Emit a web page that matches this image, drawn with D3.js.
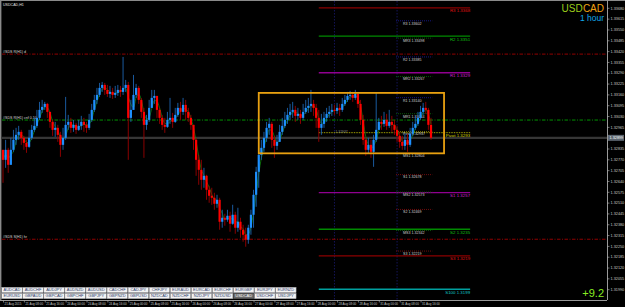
<!DOCTYPE html>
<html>
<head>
<meta charset="utf-8">
<script src="https://cdn.jsdelivr.net/npm/d3@7"></script>
<style>
  body { margin: 0; background: #000; overflow: hidden; }
  svg { display: block; }
</style>
</head>
<body>
<div id="chart"></div>
<script>
// USDCAD H1 bars, oldest first (open = previous close)
const firstOpen = 1.32827;
const closes = [
  1.32767, 1.32827, 1.32737, 1.32827, 1.32887, 1.32917, 1.32935, 1.32899, 1.32869, 1.32845,
  1.32899, 1.32947, 1.32971, 1.33019, 1.33067, 1.33085, 1.33103, 1.33055, 1.32995, 1.32947,
  1.32959, 1.32917, 1.32857, 1.32899, 1.32977, 1.32995, 1.32959, 1.32977, 1.32947, 1.32971,
  1.32995, 1.32977, 1.32959, 1.33007, 1.33067, 1.33127, 1.33157, 1.33199, 1.33217, 1.33187,
  1.33163, 1.33175, 1.33157, 1.33169, 1.33187, 1.33175, 1.33199, 1.33217, 1.33019, 1.33067,
  1.33157, 1.33199, 1.33127, 1.33055, 1.32977, 1.33007, 1.33079, 1.33139, 1.33151, 1.33067,
  1.33019, 1.32977, 1.32965, 1.33007, 1.33019, 1.32995, 1.33037, 1.33079, 1.33055, 1.33097,
  1.33055, 1.33019, 1.32977, 1.32887, 1.32767, 1.32707, 1.32647, 1.32671, 1.32587, 1.32551,
  1.32539, 1.32503, 1.32527, 1.32395, 1.32419, 1.32407, 1.32431, 1.32383, 1.32437, 1.32359,
  1.32395, 1.32347, 1.32317, 1.32287, 1.32359, 1.32437, 1.32557, 1.32695, 1.32797, 1.32839,
  1.32899, 1.32959, 1.32983, 1.32887, 1.32851, 1.32875, 1.32935, 1.32971, 1.33007, 1.33037,
  1.33055, 1.33067, 1.33031, 1.33043, 1.33019, 1.33055, 1.33079, 1.33091, 1.33103, 1.33079,
  1.33019, 1.32959, 1.32983, 1.33019, 1.33043, 1.33055, 1.33067, 1.33061, 1.33079, 1.33067,
  1.33103, 1.33127, 1.33151, 1.33157, 1.33139, 1.33163, 1.33103, 1.33007, 1.32887, 1.32827,
  1.32857, 1.32815, 1.32887, 1.32947, 1.32995, 1.32983, 1.33007, 1.32971, 1.32995, 1.32977,
  1.32947, 1.32911, 1.32875, 1.32851, 1.32887, 1.32857, 1.32923, 1.32959, 1.32983, 1.33019,
  1.33055, 1.33079, 1.33067, 1.32977, 1.32899
];
const highs = [
  1.32827, 1.32887, 1.32839, 1.32899, 1.32947, 1.32959, 1.32971, 1.32947, 1.32911, 1.32887,
  1.32947, 1.32977, 1.33019, 1.33067, 1.33115, 1.33127, 1.33115, 1.33109, 1.33055, 1.33007,
  1.32995, 1.32977, 1.32935, 1.32959, 1.33145, 1.33037, 1.33019, 1.33007, 1.32989, 1.33007,
  1.33031, 1.33019, 1.32995, 1.33043, 1.33103, 1.33157, 1.33199, 1.33229, 1.33235, 1.33229,
  1.33217, 1.33211, 1.33199, 1.33211, 1.33217, 1.33211, 1.33385, 1.33247, 1.33235, 1.33127,
  1.33277, 1.33223, 1.33211, 1.33139, 1.33079, 1.33037, 1.33127, 1.33187, 1.33187, 1.33151,
  1.33079, 1.33037, 1.33019, 1.33055, 1.33139, 1.33049, 1.33079, 1.33109, 1.33115, 1.33139,
  1.33127, 1.33079, 1.33037, 1.32977, 1.32899, 1.32797, 1.32767, 1.32719, 1.32677, 1.32611,
  1.32599, 1.32569, 1.32557, 1.32539, 1.32467, 1.32443, 1.32467, 1.32455, 1.32497, 1.32455,
  1.32479, 1.32419, 1.32377, 1.32359, 1.32377, 1.32467, 1.32587, 1.32725, 1.32839, 1.32887,
  1.32935, 1.32995, 1.33019, 1.32995, 1.32911, 1.32917, 1.32977, 1.33019, 1.33055, 1.33079,
  1.33103, 1.33115, 1.33091, 1.33079, 1.33067, 1.33103, 1.33127, 1.33139, 1.33187, 1.33127,
  1.33103, 1.33067, 1.33043, 1.33055, 1.33079, 1.33091, 1.33103, 1.33097, 1.33109, 1.33103,
  1.33139, 1.33157, 1.33175, 1.33181, 1.33175, 1.33187, 1.33163, 1.33127, 1.33037, 1.32899,
  1.32899, 1.32887, 1.32917, 1.33169, 1.33019, 1.33031, 1.33055, 1.33043, 1.33067, 1.33031,
  1.33007, 1.32971, 1.32935, 1.32911, 1.32923, 1.32923, 1.32959, 1.32995, 1.33031, 1.33055,
  1.33091, 1.33109, 1.33115, 1.33079, 1.33019
];
const lows = [
  1.32629, 1.32719, 1.32689, 1.32737, 1.32815, 1.32857, 1.32887, 1.32857, 1.32827, 1.32809,
  1.32839, 1.32887, 1.32935, 1.32959, 1.33007, 1.33049, 1.33067, 1.33019, 1.32959, 1.32911,
  1.32905, 1.32875, 1.32785, 1.32827, 1.32887, 1.32947, 1.32929, 1.32935, 1.32923, 1.32941,
  1.32947, 1.32935, 1.32929, 1.32947, 1.32995, 1.33055, 1.33103, 1.33145, 1.33175, 1.33157,
  1.33145, 1.33139, 1.33133, 1.33139, 1.33151, 1.33145, 1.33157, 1.33175, 1.32767, 1.32995,
  1.33067, 1.33139, 1.33103, 1.33019, 1.32779, 1.32947, 1.32995, 1.33079, 1.33103, 1.33019,
  1.32983, 1.32947, 1.32929, 1.32959, 1.32983, 1.32959, 1.32989, 1.33025, 1.33007, 1.33037,
  1.33007, 1.32995, 1.32947, 1.32827, 1.32671, 1.32617, 1.32587, 1.32599, 1.32527, 1.32509,
  1.32497, 1.32467, 1.32479, 1.32347, 1.32359, 1.32371, 1.32395, 1.32335, 1.32377, 1.32323,
  1.32335, 1.32299, 1.32275, 1.32245, 1.32263, 1.32317, 1.32359, 1.32485, 1.32599, 1.32767,
  1.32815, 1.32875, 1.32917, 1.32839, 1.32779, 1.32827, 1.32875, 1.32917, 1.32959, 1.32983,
  1.33007, 1.33019, 1.32995, 1.33007, 1.32983, 1.33007, 1.33043, 1.33049, 1.33055, 1.33031,
  1.32959, 1.32875, 1.32917, 1.32959, 1.32995, 1.33019, 1.33031, 1.33037, 1.33043, 1.33031,
  1.33055, 1.33091, 1.33115, 1.33127, 1.33115, 1.33127, 1.33079, 1.32977, 1.32857, 1.32791,
  1.32803, 1.32779, 1.32725, 1.32875, 1.32947, 1.32947, 1.32965, 1.32947, 1.32959, 1.32935,
  1.32917, 1.32875, 1.32839, 1.32827, 1.32827, 1.32815, 1.32845, 1.32911, 1.32947, 1.32971,
  1.33007, 1.33037, 1.33043, 1.32947, 1.32887
];

const priceTicks = [
  1.33680, 1.33615, 1.33550, 1.33485, 1.33420, 1.33355, 1.33290, 1.33225, 1.33160,
  1.33095, 1.33030, 1.32965, 1.32900, 1.32835, 1.32770, 1.32705, 1.32640, 1.32575,
  1.32510, 1.32445, 1.32380, 1.32315, 1.32250, 1.32185, 1.32120, 1.32055, 1.31990
];
const timeLabels = [
  "21 Aug 2015", "21 Aug 08:00", "21 Aug 16:00", "24 Aug 00:00", "24 Aug 08:00", "24 Aug 16:00",
  "25 Aug 00:00", "25 Aug 08:00", "25 Aug 16:00", "26 Aug 00:00", "26 Aug 08:00", "26 Aug 16:00",
  "27 Aug 00:00", "27 Aug 08:00", "27 Aug 16:00", "28 Aug 00:00", "28 Aug 08:00", "28 Aug 16:00",
  "31 Aug 00:00", "31 Aug 08:00", "31 Aug 16:00"
];
const barsPerLabel = 8;

// daily pivot levels (long lines, labelled at the right end)
const longNames = ["R3", "R2", "R1", "Pivot", "S1", "S2", "S3", "S100"];
const longValues = [1.3368, 1.3351, 1.3329, 1.3293, 1.3257, 1.3235, 1.3219, 1.3199];
// mid pivot levels (short lines)
const shortNames = ["R3", "MR3", "R2", "MR2", "R1", "MR1", "Pivot", "MS1", "S1", "MS2", "S2", "MS3", "S3"];
const shortValues = [1.33602, 1.33498, 1.33385, 1.33267, 1.33140, 1.33044, 1.32937,
                     1.32804, 1.32678, 1.32573, 1.32469, 1.32342, 1.32219];
// support / resistance zones drawn across the whole chart
const srNames = ["#SDS R(H1) d", "#SDS R(H1) cnf 0.10", "#SDS S(H1) hr"];
const srValues = [1.33402, 1.33006, 1.32290];
// consolidation box: bar range and price range
const boxBars = [98, 169];
const boxPrices = [1.32806, 1.33169];
const separatorBars = [127, 151];
const longStartBar = 121, shortStartBar = 150.6, levelEndBar = 179;

const tabsTop = ["AUDCAD","AUDCHF","AUDJPY","AUDNZD","AUDUSD","CADCHF","CADJPY","CHFJPY","EURAUD","EURCAD","EURCHF","EURGBP","EURJPY","EURNZD"];
const tabsBottom = ["EURUSD","GBPAUD","GBPCAD","GBPCHF","GBPJPY","GBPNZD","GBPUSD","NZDCAD","NZDCHF","NZDJPY","NZDUSD","USDCAD","USDCHF","USDJPY"];
const activeTab = "USDCAD";
const spreadText = "+9.2";

const cfg = {
  width: 625, height: 307,
  plotLeft: 1, plotRight: 607, plotTop: 1, plotBottom: 300,
  font: "'Liberation Sans', Arial, sans-serif",
  titleFont: "'Liberation Sans Narrow', 'Liberation Sans', Arial, sans-serif",
  bull: "#1e90ff", bullWick: "#1d64b0",
  bear: "#ff0000", bearWick: "#9a0000",
  maColor: "#109a10"
};
const longStyle = {
  R3: ["#8b0000", "#e01010"], S3: ["#8b0000", "#e01010"],
  R2: ["#008a00", "#10c010"], S2: ["#008a00", "#10c010"],
  R1: ["#900090", "#d020d0"], S1: ["#900090", "#d020d0"],
  Pivot: ["#9a9a00", "#d0d000"], S100: ["#00a0a0", "#10c8c8"]
};
function shortColor(n) {
  if (n === "Pivot") return "#8a8a00";
  if (n.startsWith("M")) return "#0a6a0a";
  return n.startsWith("R") ? "#1c1ca0" : "#8a1010";
}
const srColors = ["#a00000", "#00a000", "#a00000"];

const svg = d3.select("#chart").append("svg")
  .attr("width", cfg.width).attr("height", cfg.height)
  .style("background", "#000")
  .style("font-family", cfg.font);

const y = d3.scaleLinear().domain([1.31925, 1.33715]).range([300, 2]);
const x = d3.scaleLinear().domain([0, closes.length - 1]).range([3, 431]);

const bars = closes.map((c, i) => {
  const o = i ? closes[i - 1] : firstOpen;
  return { i, o, c, h: Math.max(highs[i], o, c), l: Math.min(lows[i], o, c) };
});

// frame
svg.append("line").attr("x1", 0.7).attr("x2", 0.7).attr("y1", 0).attr("y2", cfg.plotBottom)
  .attr("stroke", "#8a8a8a").attr("stroke-width", 1.4);
svg.append("line").attr("x1", 0).attr("x2", cfg.width).attr("y1", 0.5).attr("y2", 0.5)
  .attr("stroke", "#8a8a8a").attr("stroke-width", 1);

// day separators
svg.selectAll(".sep").data(separatorBars).enter().append("line")
  .attr("x1", d => x(d)).attr("x2", d => x(d))
  .attr("y1", cfg.plotTop).attr("y2", cfg.plotBottom)
  .attr("stroke", "#1a1a70").attr("stroke-width", 0.8).attr("stroke-dasharray", "1.5,1.5");

// support/resistance lines across the chart
svg.selectAll(".sr").data(srValues).enter().append("line")
  .attr("x1", 2).attr("x2", cfg.plotRight)
  .attr("y1", d => y(d)).attr("y2", d => y(d))
  .attr("stroke", (d, i) => srColors[i]).attr("stroke-width", 0.9)
  .attr("stroke-dasharray", "3.5,1.5,1,1.5");
svg.selectAll(".srText").data(srNames).enter().append("text")
  .attr("x", 3).attr("y", (d, i) => y(srValues[i]) - 1)
  .attr("font-size", 3.6).attr("fill", "#d8d8d8").text(d => d);

// bid line
const last = closes[closes.length - 1];
svg.append("line").attr("x1", 2).attr("x2", cfg.plotRight)
  .attr("y1", y(last)).attr("y2", y(last))
  .attr("stroke", "#363636").attr("stroke-width", 2.2);

// long pivot lines
svg.selectAll(".pl").data(longValues).enter().append("line")
  .attr("x1", x(longStartBar)).attr("x2", x(levelEndBar))
  .attr("y1", d => y(d)).attr("y2", d => y(d))
  .attr("stroke", (d, i) => longStyle[longNames[i]][0])
  .attr("stroke-width", (d, i) => longNames[i] === "Pivot" ? 1 : 1.4)
  .attr("stroke-dasharray", (d, i) => longNames[i] === "Pivot" ? "1.5,1" : null);
svg.selectAll(".plText").data(longValues).enter().append("text")
  .attr("x", x(levelEndBar)).attr("y", d => y(d) + 4.4)
  .attr("text-anchor", "end").attr("font-size", 4.4)
  .attr("fill", (d, i) => longStyle[longNames[i]][1])
  .text((d, i) => longNames[i] + " " + d.toFixed(4));

// short pivot lines
svg.selectAll(".ps").data(shortValues).enter().append("line")
  .attr("x1", x(shortStartBar)).attr("x2", x(closes.length - 0.5))
  .attr("y1", d => y(d)).attr("y2", d => y(d))
  .attr("stroke", (d, i) => shortColor(shortNames[i])).attr("stroke-width", 0.8)
  .attr("stroke-dasharray", "1,1");
svg.selectAll(".psText").data(shortValues).enter().append("text")
  .attr("x", x(shortStartBar) + 7).attr("y", d => y(d) + 3.8)
  .attr("font-size", 3.6).attr("fill", "#d0d0d0")
  .text((d, i) => shortNames[i] + " " + d.toFixed(5));
svg.append("text").attr("x", x(127) + 1).attr("y", y(shortValues[6]) + 1.5)
  .attr("font-size", 3.4).attr("fill", "#8a8a8a").text(shortValues[6].toFixed(5));

// smoothed close line (under the bodies)
const ma = closes.map((c, i) => d3.mean(closes.slice(Math.max(0, i - 2), i + 1)));

// candles
const cg = svg.append("g");
cg.selectAll(".wick").data(bars).enter().append("line")
  .attr("x1", d => x(d.i)).attr("x2", d => x(d.i))
  .attr("y1", d => y(d.h)).attr("y2", d => y(d.l))
  .attr("stroke", d => d.c >= d.o ? cfg.bullWick : cfg.bearWick)
  .attr("stroke-width", 0.9);
svg.append("path").datum(ma)
  .attr("d", d3.line().x((d, i) => x(i)).y(d => y(d)).curve(d3.curveMonotoneX))
  .attr("fill", "none").attr("stroke", cfg.maColor).attr("stroke-width", 0.7);
cg.raise();
cg.selectAll(".body").data(bars).enter().append("rect")
  .attr("x", d => x(d.i) - 1.1).attr("width", 2.2)
  .attr("y", d => y(Math.max(d.o, d.c)))
  .attr("height", d => Math.max(0.8, Math.abs(y(d.o) - y(d.c))))
  .attr("fill", d => d.c >= d.o ? cfg.bull : cfg.bear);

// consolidation box
svg.append("rect")
  .attr("x", x(boxBars[0])).attr("width", x(boxBars[1]) - x(boxBars[0]))
  .attr("y", y(boxPrices[1])).attr("height", y(boxPrices[0]) - y(boxPrices[1]))
  .attr("fill", "none").attr("stroke", "#e8a010").attr("stroke-width", 1.8);

// price axis
svg.append("line").attr("x1", cfg.plotRight + 0.5).attr("x2", cfg.plotRight + 0.5)
  .attr("y1", 0).attr("y2", cfg.plotBottom).attr("stroke", "#9a9a9a").attr("stroke-width", 1);
svg.append("line").attr("x1", 0).attr("x2", cfg.plotRight).attr("y1", cfg.plotBottom + 0.5).attr("y2", cfg.plotBottom + 0.5)
  .attr("stroke", "#9a9a9a").attr("stroke-width", 1);
const axisR = svg.append("g").attr("transform", `translate(${cfg.plotRight + 0.5},0)`)
  .call(d3.axisRight(y).tickValues(priceTicks.filter(t => Math.abs(y(t) - y(last)) > 5))
    .tickSize(2).tickPadding(1).tickFormat(d3.format(".5f")));
axisR.select(".domain").remove();
axisR.selectAll("line").attr("stroke", "#bbbbbb").attr("stroke-width", 0.6);
axisR.selectAll("text").attr("fill", "#c8c8c8").attr("font-size", 3.8).attr("font-family", cfg.font);

// current price tag
svg.append("rect").attr("x", cfg.plotRight + 1).attr("y", y(last) - 3).attr("width", 16).attr("height", 6)
  .attr("fill", "#5c6670");
svg.append("text").attr("x", cfg.plotRight + 2.5).attr("y", y(last) + 1.4)
  .attr("font-size", 3.8).attr("fill", "#ffffff").text(last.toFixed(5));

// time axis
const tIdx = timeLabels.map((t, k) => k * barsPerLabel);
const axisB = svg.append("g").attr("transform", `translate(0,${cfg.plotBottom + 0.5})`)
  .call(d3.axisBottom(x).tickValues(tIdx).tickSize(2).tickPadding(0)
    .tickFormat((d, k) => timeLabels[k]));
axisB.select(".domain").remove();
axisB.selectAll("line").attr("stroke", "#bbbbbb").attr("stroke-width", 0.6);
axisB.selectAll("text").attr("fill", "#c8c8c8").attr("font-size", 3.0)
  .attr("font-family", cfg.font).attr("text-anchor", "start").attr("dx", 1).attr("dy", 2);

// symbol tabs
function drawTabs(names, top) {
  const w = 21.07;
  const g = svg.append("g");
  names.forEach((n, j) => {
    const act = n === activeTab;
    g.append("rect").attr("x", 1.7 + j * w).attr("y", top).attr("width", w - 0.6).attr("height", 5.4)
      .attr("fill", act ? "#6a6a6a" : "#f2f2f2").attr("stroke", act ? "#505050" : "#9a9aa0").attr("stroke-width", 0.5);
    g.append("text").attr("x", 1.7 + j * w + (w - 0.6) / 2).attr("y", top + 4.1)
      .attr("text-anchor", "middle").attr("font-size", 4)
      .attr("fill", act ? "#ffffff" : "#2a3a6a").text(n);
  });
}
drawTabs(tabsTop, 287.3);
drawTabs(tabsBottom, 293.3);

// titles
svg.append("text").attr("x", 3).attr("y", 5.6).attr("font-size", 3.6).attr("fill", "#e0e0e0").text("USDCAD,H1");
const cadText = svg.append("text").attr("x", 604).attr("y", 11.8).attr("text-anchor", "end")
  .attr("font-family", cfg.titleFont).attr("font-size", 10).attr("fill", "#f0a010").text("CAD");
const cadW = cadText.node().getComputedTextLength();
svg.append("text").attr("x", 604 - cadW - 0.2).attr("y", 11.8).attr("text-anchor", "end")
  .attr("font-family", cfg.titleFont).attr("font-size", 10).attr("fill", "#9ccc1a").text("USD");
svg.append("text").attr("x", 604).attr("y", 21).attr("text-anchor", "end")
  .attr("font-size", 8.5).attr("fill", "#10a8e8").text("1 hour");
svg.append("text").attr("x", 604).attr("y", 297).attr("text-anchor", "end")
  .attr("font-size", 11).attr("fill", "#88ee22").text(spreadText);
</script>
</body>
</html>
